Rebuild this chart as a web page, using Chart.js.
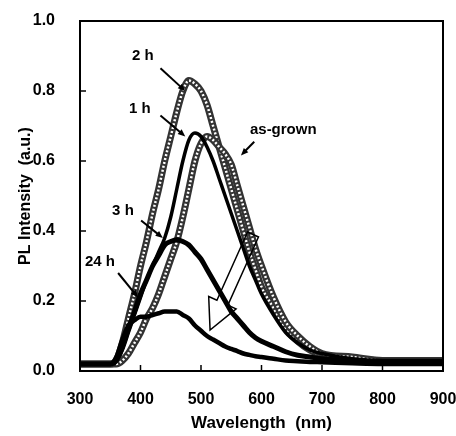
<!DOCTYPE html>
<html>
<head>
<meta charset="utf-8">
<script src="https://cdn.jsdelivr.net/npm/chart.js@4"></script>
<style>
  html, body { margin: 0; padding: 0; background: #fff; }
  #wrap { width: 456px; height: 436px; }
</style>
</head>
<body>
<div id="wrap"><canvas id="plChart" width="456" height="436"></canvas></div>
<script>
// wavelength grid (nm)
const wavelengths = [300,320,340,350,360,370,380,390,400,410,420,430,440,450,460,470,480,490,500,510,520,530,540,550,560,570,580,590,600,620,640,660,680,700,750,800,850,900];

// PL intensity
const pl2h     = [.02,.02,.02,.02,.03,.08,.15,.22,.30,.37,.45,.52,.60,.67,.74,.80,.83,.82,.80,.76,.70,.64,.58,.52,.46,.40,.34,.29,.24,.18,.12,.085,.06,.045,.035,.03,.03,.03];
const pl1h     = [.02,.02,.02,.02,.03,.06,.11,.16,.21,.26,.30,.34,.38,.44,.52,.60,.66,.68,.67,.64,.60,.55,.50,.45,.40,.35,.30,.26,.22,.16,.11,.08,.06,.05,.035,.03,.03,.03];
const plAsGrown= [.02,.02,.02,.02,.02,.03,.05,.08,.11,.15,.18,.22,.27,.32,.37,.44,.52,.60,.65,.67,.66,.64,.62,.59,.53,.47,.41,.35,.30,.21,.14,.10,.07,.05,.04,.03,.03,.03];
const pl3h     = [.02,.02,.02,.02,.03,.07,.12,.17,.22,.26,.30,.33,.36,.37,.375,.37,.36,.34,.32,.29,.26,.23,.20,.17,.15,.13,.11,.095,.085,.07,.055,.045,.04,.035,.03,.025,.025,.025];
const pl24h    = [.02,.02,.02,.02,.04,.09,.13,.145,.155,.155,.16,.165,.17,.17,.17,.16,.15,.13,.115,.10,.09,.08,.07,.063,.057,.05,.046,.042,.04,.035,.03,.028,.026,.025,.022,.02,.02,.02];

const xTicks = [300,400,500,600,700,800,900];
const yTicks = [0,0.2,0.4,0.6,0.8,1.0];

// labels: text, text position [nm, a.u.], arrow from, arrow to
const labelTexts = ["2 h", "1 h", "as-grown", "3 h", "24 h"];
const labelPos   = [[404,0.90],[399,0.75],[636,0.69],[371,0.457],[333,0.313]];
const arrowFrom  = [[433,0.865],[433,0.73],[588,0.655],[401,0.43],[363,0.28]];
const arrowTo    = [[474,0.80],[474,0.67],[566,0.616],[437,0.38],[396,0.21]];

// big hollow arrow (tail, tip)
const bigArrow = [[586,0.39],[515,0.117]];

function pts(ys) {
  return wavelengths.map((x, i) => ({ x: x, y: ys[i] }));
}

// hatched band: white dashes drawn over a dark thick line (lower order draws on top)
function hatched(ys, ord) {
  return [
    { data: pts(ys), borderColor: '#333', borderWidth: 7, pointRadius: 0,
      cubicInterpolationMode: 'monotone', order: ord + 1 },
    { data: pts(ys), borderColor: '#fff', borderWidth: 2.5, borderDash: [2, 2], pointRadius: 0,
      cubicInterpolationMode: 'monotone', order: ord }
  ];
}

function solid(ys, w, ord) {
  return { data: pts(ys), borderColor: '#000', borderWidth: w, pointRadius: 0,
           cubicInterpolationMode: 'monotone', order: ord };
}

const FONT = "'Liberation Sans', Arial, sans-serif";

const decor = {
  id: 'decor',
  afterDatasetsDraw(chart) {
    const ctx = chart.ctx;
    const xs = chart.scales.x, ys = chart.scales.y;
    const a = chart.chartArea;
    ctx.save();
    ctx.strokeStyle = '#000';
    ctx.fillStyle = '#000';

    // frame
    ctx.lineWidth = 2;
    ctx.strokeRect(a.left, a.top, a.right - a.left, a.bottom - a.top);

    // inward ticks
    ctx.lineWidth = 1.5;
    xTicks.forEach(v => {
      const px = xs.getPixelForValue(v);
      ctx.beginPath(); ctx.moveTo(px, a.bottom); ctx.lineTo(px, a.bottom - 6); ctx.stroke();
    });
    yTicks.forEach(v => {
      const py = ys.getPixelForValue(v);
      ctx.beginPath(); ctx.moveTo(a.left, py); ctx.lineTo(a.left + 6, py); ctx.stroke();
    });

    // labels with arrows
    ctx.font = "bold 15px " + FONT;
    ctx.textAlign = 'center';
    ctx.textBaseline = 'middle';
    labelTexts.forEach((t, i) => {
      ctx.fillText(t, xs.getPixelForValue(labelPos[i][0]), ys.getPixelForValue(labelPos[i][1]));
      const x1 = xs.getPixelForValue(arrowFrom[i][0]), y1 = ys.getPixelForValue(arrowFrom[i][1]);
      const x2 = xs.getPixelForValue(arrowTo[i][0]), y2 = ys.getPixelForValue(arrowTo[i][1]);
      const ang = Math.atan2(y2 - y1, x2 - x1);
      ctx.lineWidth = 2;
      ctx.beginPath(); ctx.moveTo(x1, y1); ctx.lineTo(x2 - 5 * Math.cos(ang), y2 - 5 * Math.sin(ang)); ctx.stroke();
      ctx.beginPath();
      ctx.moveTo(x2, y2);
      ctx.lineTo(x2 - 8 * Math.cos(ang - 0.4), y2 - 8 * Math.sin(ang - 0.4));
      ctx.lineTo(x2 - 8 * Math.cos(ang + 0.4), y2 - 8 * Math.sin(ang + 0.4));
      ctx.closePath(); ctx.fill();
    });

    // hollow block arrow
    const tx = xs.getPixelForValue(bigArrow[0][0]), ty = ys.getPixelForValue(bigArrow[0][1]);
    const hx = xs.getPixelForValue(bigArrow[1][0]), hy = ys.getPixelForValue(bigArrow[1][1]);
    const len = Math.hypot(hx - tx, hy - ty);
    const ux = (hx - tx) / len, uy = (hy - ty) / len;
    const nx = -uy, ny = ux;
    const sw = 6, hw = 15, hl = 30;
    const bx = hx - ux * hl, by = hy - uy * hl;
    ctx.lineWidth = 1.5;
    ctx.beginPath();
    ctx.moveTo(tx + nx * sw, ty + ny * sw);
    ctx.lineTo(bx + nx * sw, by + ny * sw);
    ctx.lineTo(bx + nx * hw, by + ny * hw);
    ctx.lineTo(hx, hy);
    ctx.lineTo(bx - nx * hw, by - ny * hw);
    ctx.lineTo(bx - nx * sw, by - ny * sw);
    ctx.lineTo(tx - nx * sw, ty - ny * sw);
    ctx.closePath();
    ctx.stroke();
    ctx.restore();
  }
};

new Chart(document.getElementById('plChart'), {
  type: 'line',
  data: {
    datasets: [
      ...hatched(plAsGrown, 5),
      ...hatched(pl2h, 7),
      solid(pl1h, 3.5, 3),
      solid(pl3h, 5, 2),
      solid(pl24h, 4.5, 1)
    ]
  },
  options: {
    responsive: false,
    animation: false,
    layout: { padding: { left: 0, right: 13, top: 21, bottom: 2 } },
    plugins: { legend: { display: false }, tooltip: { enabled: false } },
    scales: {
      x: {
        type: 'linear', min: 300, max: 900,
        afterBuildTicks: s => { s.ticks = xTicks.map(v => ({ value: v })); },
        afterFit: s => { s.height = 63; s.paddingLeft = 0; s.paddingRight = 0; },
        grid: { display: false },
        border: { display: false },
        ticks: { color: '#000', padding: 11, font: { family: FONT, size: 16, weight: 'bold' } },
        title: { display: true, text: 'Wavelength  (nm)', color: '#000', padding: { top: 1, bottom: 0 },
                 font: { family: FONT, size: 17, weight: 'bold' } }
      },
      y: {
        min: 0, max: 1,
        afterBuildTicks: s => { s.ticks = yTicks.map(v => ({ value: v })); },
        afterFit: s => { s.width = 80; s.paddingTop = 0; s.paddingBottom = 0; },
        grid: { display: false },
        border: { display: false },
        ticks: { color: '#000', padding: 17, callback: v => v.toFixed(1),
                 font: { family: FONT, size: 16, weight: 'bold' } },
        title: { display: true, text: 'PL Intensity  (a.u.)', color: '#000', padding: { top: 16, bottom: 0 },
                 font: { family: FONT, size: 16, weight: 'bold' } }
      }
    }
  },
  plugins: [decor]
});
</script>
</body>
</html>
